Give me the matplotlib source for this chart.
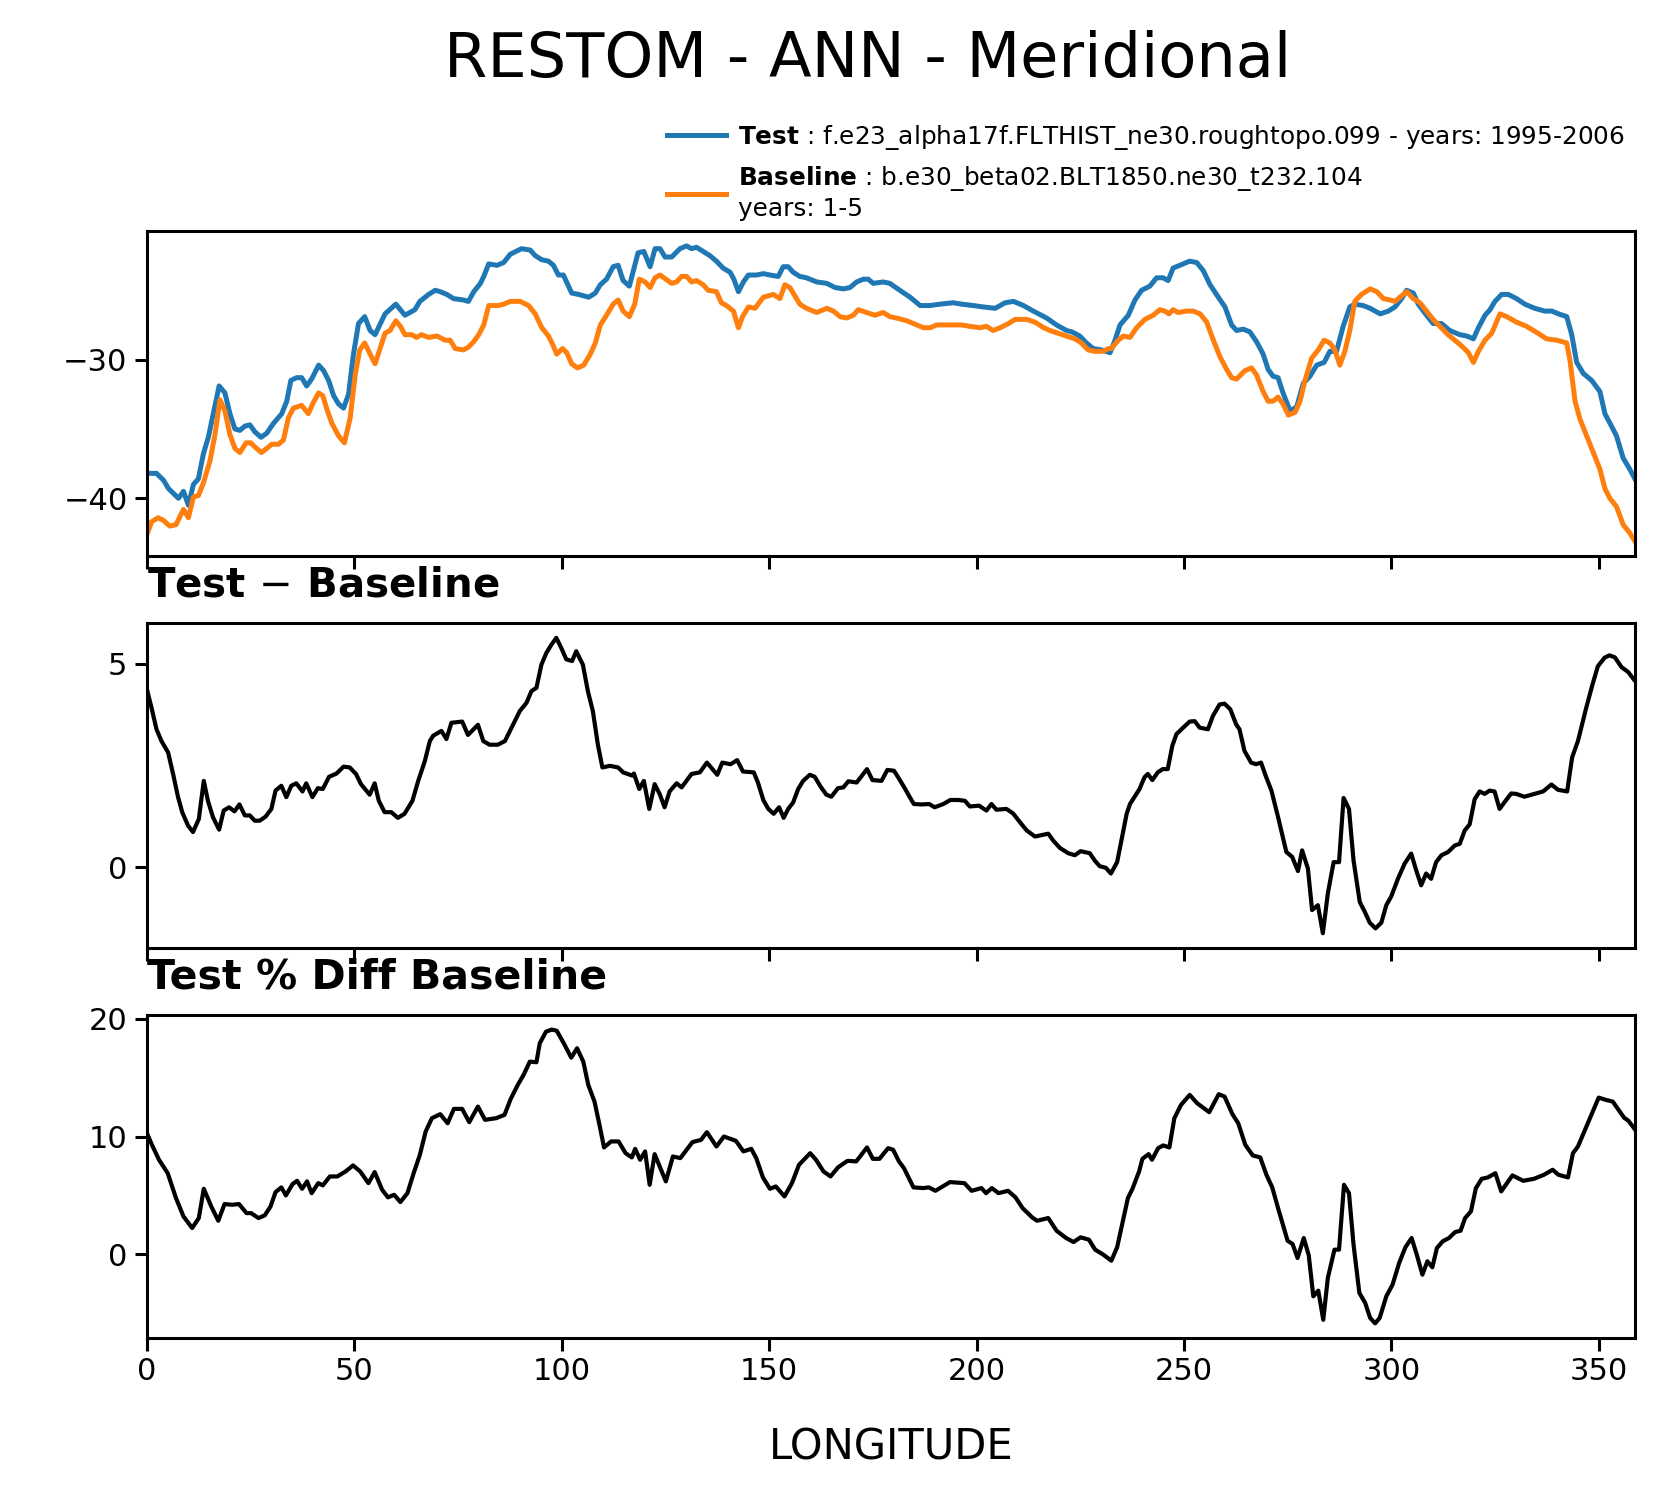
import numpy as np
import matplotlib
matplotlib.use("Agg")
import matplotlib.pyplot as plt
from matplotlib.ticker import MultipleLocator

# Test (blue)
test_lon = [0.0, 2.3, 4.0, 5.2, 7.6, 8.8, 10.0, 11.2, 12.4, 13.6, 14.8, 16.0, 17.4, 18.8, 20.0,
            21.2, 22.4, 23.6, 24.8, 26.0, 27.5, 28.9, 30.5, 32.5, 33.7, 34.7, 36.1, 37.3, 38.5,
            39.7, 41.4, 42.6, 43.8, 45.0, 46.2, 47.4, 48.6, 49.8, 51.0, 52.5, 53.8, 55.0, 57.4,
            60.0, 62.2, 64.6, 65.8, 67.9, 69.5, 70.7, 72.3, 73.9, 76.3, 77.5, 78.8, 80.4, 81.2,
            82.4, 84.4, 86.0, 87.6, 90.3, 92.4, 93.6, 95.2, 96.8, 98.0, 99.2, 100.4, 102.4, 104.1,
            106.5, 108.1, 109.3, 110.8, 112.4, 113.6, 114.8, 116.3, 117.6, 118.4, 119.8, 121.3,
            122.5, 123.7, 124.9, 126.5, 128.5, 130.1, 131.3, 132.5, 134.1, 135.7, 137.3, 138.9,
            140.6, 141.5, 142.6, 143.8, 145.0, 147.0, 148.6, 150.2, 152.2, 153.4, 154.6, 155.8,
            157.4, 159.0, 161.5, 163.9, 165.9, 167.9, 169.5, 171.1, 172.7, 173.9, 175.1, 177.5,
            179.1, 181.5, 184.0, 186.4, 188.8, 191.2, 194.4, 196.4, 199.2, 201.6, 204.5, 206.9,
            208.9, 211.3, 213.7, 216.9, 219.3, 221.7, 223.0, 224.9, 226.5, 228.1, 230.1, 232.2,
            233.4, 234.6, 236.6, 238.2, 239.8, 241.8, 243.4, 245.0, 246.2, 247.4, 249.0, 251.4,
            253.1, 254.7, 256.3, 258.3, 259.9, 261.5, 262.7, 264.3, 265.9, 267.5, 269.1, 270.3,
            271.5, 272.7, 273.9, 275.6, 277.2, 278.8, 280.4, 282.0, 283.8, 285.2, 286.8, 288.4,
            290.0, 291.2, 293.2, 294.9, 297.3, 299.3, 300.9, 302.5, 303.7, 305.3, 306.5, 308.5,
            310.1, 312.1, 314.1, 316.5, 318.2, 319.8, 321.0, 322.6, 323.8, 325.0, 326.6, 328.2,
            330.2, 332.2, 334.6, 337.0, 338.7, 340.3, 342.3, 343.5, 344.7, 346.3, 348.3, 350.3,
            351.5, 353.1, 354.3, 355.9, 357.5, 358.75]
test_val = [-38.2, -38.2, -38.7, -39.3, -40.0, -39.5, -40.5, -39.0, -38.6, -36.8, -35.6, -33.9,
            -31.9, -32.4, -33.9, -35.0, -35.1, -34.8, -34.7, -35.2, -35.6, -35.3, -34.6, -33.9,
            -33.0, -31.5, -31.3, -31.3, -31.9, -31.4, -30.4, -30.8, -31.5, -32.6, -33.2, -33.5,
            -32.5, -29.6, -27.4, -26.9, -27.9, -28.2, -26.7, -26.0, -26.8, -26.4, -25.8, -25.3,
            -25.0, -25.1, -25.3, -25.6, -25.7, -25.8, -25.1, -24.5, -24.0, -23.1, -23.2, -23.0,
            -22.4, -22.0, -22.1, -22.5, -22.8, -22.9, -23.2, -23.9, -23.9, -25.2, -25.3, -25.5,
            -25.2, -24.6, -24.2, -23.3, -23.2, -24.3, -24.7, -23.2, -22.3, -22.2, -23.3, -22.0,
            -22.0, -22.6, -22.6, -22.0, -21.8, -22.0, -21.9, -22.2, -22.5, -22.9, -23.4, -23.7,
            -24.2, -25.1, -24.4, -23.9, -23.9, -23.8, -23.9, -24.0, -23.3, -23.3, -23.7, -24.0,
            -24.1, -24.4, -24.5, -24.8, -24.9, -24.8, -24.4, -24.2, -24.2, -24.5, -24.4, -24.5,
            -25.0, -25.5, -26.1, -26.1, -26.0, -25.9, -26.0, -26.1, -26.2, -26.3, -25.9, -25.8,
            -26.1, -26.5, -27.0, -27.5, -27.9, -28.0, -28.3, -28.8, -29.2, -29.3, -29.5, -28.6,
            -27.5, -26.8, -25.7, -25.0, -24.7, -24.1, -24.1, -24.3, -23.4, -23.2, -22.9, -23.0,
            -23.6, -24.6, -25.5, -26.2, -27.5, -27.9, -27.8, -28.0, -28.7, -29.6, -30.7, -31.2,
            -31.3, -32.4, -33.7, -33.4, -31.7, -31.2, -30.4, -30.2, -29.4, -29.4, -27.6, -26.2,
            -26.0, -26.1, -26.3, -26.7, -26.5, -26.2, -25.6, -25.0, -25.2, -26.0, -26.8, -27.4,
            -27.4, -27.9, -28.2, -28.3, -28.5, -27.7, -26.8, -26.4, -25.8, -25.3, -25.3, -25.6,
            -26.0, -26.3, -26.5, -26.5, -26.7, -26.9, -28.2, -30.2, -31.0, -31.5, -32.3, -33.9,
            -34.8, -35.5, -37.1, -37.9, -38.6]

# Baseline (orange)
base_lon = [0.0, 1.1, 2.7, 4.0, 5.5, 7.0, 8.8, 10.0, 11.2, 12.4, 13.6, 15.2, 16.4, 17.6, 18.8,
            20.0, 21.2, 22.4, 23.9, 25.0, 26.4, 27.6, 28.9, 30.1, 31.7, 32.9, 34.1, 35.3, 37.3,
            38.9, 40.1, 41.4, 42.4, 43.4, 44.6, 46.2, 47.6, 49.0, 50.2, 51.3, 52.5, 53.8, 55.0,
            56.2, 57.4, 58.6, 60.0, 61.1, 62.2, 63.8, 65.0, 66.2, 67.9, 69.9, 71.9, 73.1, 74.3,
            76.3, 77.5, 78.8, 80.0, 81.2, 82.4, 84.7, 86.0, 87.6, 90.0, 92.0, 93.6, 95.2, 96.8,
            97.8, 98.8, 100.2, 101.2, 102.4, 103.8, 105.3, 106.9, 108.1, 109.3, 110.8, 112.4,
            113.6, 114.8, 116.3, 117.6, 118.7, 120.1, 121.3, 122.5, 123.7, 125.1, 126.5, 127.7,
            128.9, 130.1, 131.3, 132.5, 134.1, 135.3, 137.3, 138.5, 139.7, 141.4, 142.6, 143.6,
            145.0, 146.6, 148.6, 151.0, 152.6, 153.8, 155.0, 156.2, 157.4, 159.0, 161.5, 163.9,
            165.5, 167.1, 168.7, 170.3, 171.5, 173.5, 175.5, 177.5, 179.1, 180.7, 183.2, 185.6,
            187.2, 188.8, 190.4, 193.6, 196.4, 198.4, 200.8, 202.4, 204.0, 205.7, 207.7, 209.3,
            212.1, 214.1, 216.2, 217.7, 219.7, 221.7, 223.7, 225.3, 226.9, 228.5, 230.5, 231.8,
            232.5, 234.2, 235.4, 237.0, 238.6, 240.6, 242.6, 244.2, 245.4, 246.4, 247.4, 248.6,
            250.6, 252.2, 253.9, 255.5, 257.1, 258.7, 260.3, 261.5, 262.7, 264.7, 266.3, 267.5,
            269.1, 270.3, 271.5, 272.7, 273.9, 275.2, 276.8, 278.0, 279.2, 280.8, 282.4, 283.8,
            285.2, 286.4, 287.6, 288.8, 290.0, 291.2, 292.8, 294.9, 296.5, 298.1, 299.7, 300.9,
            302.1, 303.7, 305.3, 306.9, 308.5, 310.1, 311.7, 313.7, 315.3, 316.9, 318.6, 319.8,
            321.0, 322.6, 324.2, 326.2, 327.8, 330.2, 332.6, 335.4, 337.4, 339.9, 342.3, 343.1,
            344.3, 345.5, 347.1, 348.7, 350.3, 351.5, 352.7, 354.3, 355.9, 357.5, 358.75]
base_val = [-42.6, -41.7, -41.4, -41.6, -42.0, -41.9, -40.8, -41.4, -39.9, -39.8, -38.9, -37.3,
            -35.4, -32.9, -33.7, -35.4, -36.4, -36.7, -36.0, -36.0, -36.4, -36.7, -36.4, -36.1,
            -36.1, -35.8, -34.2, -33.5, -33.3, -33.9, -33.1, -32.4, -32.6, -33.6, -34.6, -35.5,
            -36.0, -34.2, -31.1, -29.3, -28.8, -29.6, -30.3, -29.2, -28.1, -27.9, -27.2, -27.6,
            -28.2, -28.2, -28.4, -28.2, -28.4, -28.3, -28.6, -28.6, -29.2, -29.3, -29.1, -28.7,
            -28.2, -27.5, -26.1, -26.1, -26.0, -25.8, -25.8, -26.1, -26.7, -27.7, -28.3, -28.9,
            -29.6, -29.2, -29.5, -30.3, -30.6, -30.4, -29.6, -28.8, -27.5, -26.8, -26.0, -25.7,
            -26.5, -26.9, -26.0, -24.2, -24.4, -24.8, -24.1, -23.9, -24.2, -24.5, -24.4, -24.0,
            -24.0, -24.4, -24.3, -24.6, -25.0, -25.1, -25.9, -26.1, -26.5, -27.7, -26.9, -26.2,
            -26.3, -25.5, -25.3, -25.6, -24.6, -24.8, -25.4, -26.0, -26.3, -26.6, -26.3, -26.5,
            -26.9, -27.0, -26.8, -26.4, -26.6, -26.8, -26.6, -26.9, -27.0, -27.2, -27.5, -27.7,
            -27.7, -27.5, -27.5, -27.5, -27.6, -27.7, -27.6, -27.9, -27.7, -27.4, -27.1, -27.1,
            -27.3, -27.7, -27.9, -28.1, -28.3, -28.5, -28.8, -29.3, -29.4, -29.4, -29.2, -29.2,
            -28.6, -28.3, -28.4, -27.7, -27.1, -26.8, -26.4, -26.5, -26.7, -26.4, -26.6, -26.5,
            -26.5, -26.7, -27.3, -28.6, -29.8, -30.7, -31.3, -31.4, -30.8, -30.6, -31.1, -32.3,
            -33.0, -33.0, -32.7, -33.2, -34.0, -33.8, -33.0, -31.5, -29.9, -29.3, -28.6, -28.8,
            -29.3, -30.4, -29.4, -27.9, -25.8, -25.3, -24.9, -25.1, -25.6, -25.7, -25.8, -25.5,
            -25.1, -25.6, -25.9, -26.5, -27.1, -27.6, -28.2, -28.6, -29.0, -29.5, -30.2, -29.4,
            -28.6, -28.1, -26.7, -26.9, -27.3, -27.6, -28.1, -28.5, -28.6, -28.8, -30.1, -33.0,
            -34.3, -35.5, -36.7, -37.9, -39.3, -40.0, -40.6, -41.9, -42.5, -43.1]

# Test - Baseline, middle panel
diff_lon = [0.0, 1.1, 2.3, 3.5, 5.1, 6.3, 7.5, 8.5, 9.9, 11.1, 12.5, 13.7, 14.7, 15.9, 17.4, 18.5,
            19.8, 21.1, 22.3, 23.6, 24.8, 26.0, 27.2, 28.6, 30.0, 31.0, 32.4, 33.6, 34.8, 36.0,
            37.5, 38.4, 39.9, 41.2, 42.4, 43.9, 45.7, 47.4, 48.9, 50.4, 51.6, 53.7, 54.9, 55.9,
            57.3, 58.9, 60.5, 62.1, 64.0, 65.4, 67.0, 68.2, 69.0, 71.0, 72.2, 73.4, 76.0, 77.4,
            79.8, 81.1, 82.6, 84.6, 86.3, 87.9, 89.9, 91.5, 92.7, 93.9, 95.1, 96.3, 97.5, 98.7,
            99.9, 101.1, 102.5, 103.5, 105.1, 106.3, 107.5, 108.7, 109.8, 111.6, 113.6, 114.8,
            117.0, 117.4, 118.7, 119.8, 121.1, 122.4, 123.6, 124.8, 126.0, 127.7, 128.9, 131.3,
            133.3, 135.0, 137.5, 138.7, 140.7, 142.3, 143.7, 146.3, 147.3, 148.6, 149.8, 151.1,
            152.4, 153.5, 154.6, 155.8, 157.0, 158.2, 159.8, 161.0, 162.4, 163.8, 165.0, 166.6,
            167.9, 169.1, 171.1, 172.7, 173.6, 174.9, 177.1, 178.5, 180.1, 181.1, 182.7, 183.9,
            184.9, 186.7, 188.6, 189.9, 192.0, 193.7, 195.6, 197.2, 198.4, 200.6, 202.4, 203.6,
            204.8, 207.2, 208.8, 210.5, 212.1, 214.1, 217.3, 218.5, 220.1, 222.1, 223.7, 225.1,
            227.3, 228.5, 229.7, 231.2, 232.4, 233.9, 235.4, 236.2, 237.0, 239.3, 240.5, 241.3,
            242.4, 243.7, 244.9, 246.1, 247.2, 248.2, 249.4, 251.4, 252.6, 253.8, 255.8, 257.0,
            258.6, 259.8, 261.2, 262.6, 263.4, 264.6, 266.2, 267.4, 268.6, 269.7, 271.1, 272.7,
            274.7, 276.1, 277.5, 278.5, 279.9, 280.9, 282.3, 283.5, 284.7, 286.1, 287.4, 288.5,
            289.8, 290.9, 292.4, 293.6, 294.8, 296.2, 297.6, 298.8, 300.0, 301.6, 303.2, 304.8,
            306.0, 307.2, 308.4, 309.6, 310.8, 312.1, 313.7, 315.3, 316.5, 317.7, 318.9, 320.1,
            321.3, 322.5, 323.7, 324.9, 326.1, 327.7, 328.9, 330.1, 332.1, 334.5, 336.6, 338.6,
            340.2, 342.4, 343.6, 345.0, 347.0, 348.5, 349.8, 351.4, 352.6, 353.9, 355.5, 357.1,
            358.75]
diff_val = [4.37, 3.92, 3.39, 3.10, 2.82, 2.29, 1.72, 1.35, 1.02, 0.86, 1.18, 2.12, 1.63, 1.23,
            0.92, 1.39, 1.47, 1.37, 1.54, 1.27, 1.27, 1.14, 1.14, 1.24, 1.43, 1.88, 2.00, 1.72,
            2.00, 2.06, 1.86, 2.06, 1.72, 1.94, 1.92, 2.22, 2.30, 2.47, 2.45, 2.29, 2.04, 1.78,
            2.06, 1.63, 1.35, 1.35, 1.21, 1.31, 1.63, 2.12, 2.61, 3.10, 3.23, 3.35, 3.15, 3.55,
            3.58, 3.25, 3.50, 3.10, 3.01, 3.01, 3.10, 3.43, 3.84, 4.04, 4.33, 4.41, 4.98, 5.27,
            5.47, 5.64, 5.39, 5.11, 5.07, 5.31, 4.98, 4.33, 3.84, 3.02, 2.45, 2.49, 2.45, 2.33,
            2.25, 2.30, 1.92, 2.12, 1.43, 2.04, 1.80, 1.47, 1.86, 2.06, 1.96, 2.29, 2.33, 2.57,
            2.27, 2.57, 2.53, 2.63, 2.35, 2.33, 2.08, 1.65, 1.43, 1.31, 1.47, 1.21, 1.43, 1.59,
            1.92, 2.12, 2.27, 2.22, 1.98, 1.78, 1.73, 1.94, 1.96, 2.11, 2.08, 2.29, 2.41, 2.14,
            2.12, 2.39, 2.37, 2.21, 1.94, 1.72, 1.55, 1.54, 1.55, 1.47, 1.55, 1.65, 1.65, 1.63,
            1.49, 1.51, 1.39, 1.55, 1.41, 1.43, 1.32, 1.10, 0.90, 0.75, 0.82, 0.65, 0.47, 0.34,
            0.29, 0.39, 0.34, 0.16, 0.02, -0.02, -0.16, 0.12, 0.90, 1.31, 1.55, 1.92, 2.21, 2.29,
            2.14, 2.33, 2.41, 2.41, 2.98, 3.27, 3.39, 3.58, 3.59, 3.43, 3.39, 3.72, 4.00, 4.02,
            3.88, 3.51, 3.39, 2.86, 2.57, 2.53, 2.57, 2.25, 1.88, 1.23, 0.37, 0.25, -0.10, 0.41,
            -0.04, -1.06, -0.94, -1.63, -0.65, 0.12, 0.12, 1.70, 1.43, 0.16, -0.86, -1.10, -1.37,
            -1.51, -1.37, -0.94, -0.72, -0.29, 0.08, 0.33, -0.08, -0.45, -0.16, -0.29, 0.12, 0.29,
            0.37, 0.53, 0.57, 0.90, 1.05, 1.67, 1.86, 1.80, 1.88, 1.86, 1.43, 1.65, 1.81, 1.80,
            1.73, 1.80, 1.86, 2.03, 1.90, 1.86, 2.70, 3.10, 3.92, 4.49, 4.94, 5.15, 5.21, 5.16,
            4.92, 4.80, 4.58]

# Test % Diff Baseline, bottom panel
pct_lon = [0.0, 1.2, 2.9, 5.0, 7.0, 8.8, 10.9, 12.5, 13.7, 15.5, 17.2, 18.7, 20.5, 22.2, 24.0,
           25.1, 26.9, 28.4, 29.8, 31.0, 32.4, 33.5, 35.1, 36.2, 37.4, 38.6, 39.7, 41.3, 42.4,
           44.1, 45.9, 47.9, 49.7, 51.4, 53.4, 54.9, 56.7, 58.1, 59.6, 61.1, 62.8, 64.3, 65.8,
           67.2, 68.7, 70.7, 72.5, 74.0, 76.0, 77.7, 79.8, 81.5, 84.2, 86.2, 87.7, 89.4, 90.8,
           92.3, 93.9, 94.7, 96.2, 97.6, 98.8, 100.5, 102.3, 103.7, 105.2, 106.4, 107.9, 109.1,
           110.2, 111.9, 113.7, 115.4, 116.9, 117.7, 118.9, 120.1, 121.2, 122.4, 125.1, 126.8,
           128.6, 131.5, 133.6, 135.0, 137.3, 139.1, 142.0, 143.8, 145.7, 146.9, 148.5, 150.2,
           151.6, 153.7, 155.5, 157.2, 159.9, 161.3, 163.1, 164.8, 166.6, 168.9, 171.0, 173.6,
           175.0, 176.6, 178.7, 179.9, 181.3, 182.5, 184.8, 187.1, 188.5, 190.1, 193.6, 197.1,
           198.8, 201.2, 202.3, 203.7, 205.3, 207.6, 209.4, 211.1, 213.4, 214.6, 217.3, 219.3,
           221.6, 223.4, 225.1, 227.1, 228.6, 230.6, 232.5, 233.9, 235.1, 236.5, 237.6, 239.2,
           240.0, 241.5, 242.3, 243.8, 245.0, 246.5, 247.7, 249.3, 251.4, 253.2, 256.1, 258.4,
           259.8, 261.7, 263.1, 264.8, 266.6, 268.4, 269.9, 271.3, 272.7, 275.0, 276.2, 277.4,
           278.9, 280.1, 281.2, 282.4, 283.6, 284.7, 286.3, 287.4, 288.6, 289.8, 290.9, 292.3,
           293.7, 294.9, 296.1, 297.2, 298.8, 300.3, 301.9, 303.4, 304.9, 306.1, 307.5, 308.7,
           309.9, 311.0, 312.4, 313.9, 315.4, 316.7, 317.8, 319.2, 320.4, 321.8, 323.3, 325.1,
           326.5, 329.2, 331.8, 334.4, 336.8, 338.9, 340.3, 342.6, 343.8, 345.0, 346.7, 348.4,
           350.0, 351.7, 353.4, 354.5, 356.1, 357.2, 358.75]
pct_val = [10.28, 9.29, 8.02, 6.88, 4.76, 3.20, 2.21, 3.06, 5.55, 4.05, 2.83, 4.25, 4.19, 4.25,
           3.48, 3.48, 3.06, 3.29, 4.05, 5.27, 5.67, 4.99, 5.95, 6.23, 5.55, 6.18, 5.18, 6.03,
           5.84, 6.60, 6.60, 7.03, 7.54, 7.03, 6.03, 6.97, 5.47, 4.82, 5.04, 4.42, 5.18, 6.88,
           8.44, 10.43, 11.56, 11.90, 11.13, 12.35, 12.35, 11.22, 12.55, 11.42, 11.56, 11.84,
           13.20, 14.39, 15.24, 16.37, 16.32, 17.93, 18.92, 19.10, 19.00, 17.93, 16.71, 17.51,
           16.37, 14.39, 12.97, 10.99, 9.07, 9.58, 9.58, 8.58, 8.22, 8.95, 8.02, 8.73, 5.89,
           8.50, 6.18, 8.30, 8.16, 9.52, 9.72, 10.37, 9.15, 10.00, 9.63, 8.73, 8.95, 8.16, 6.52,
           5.55, 5.75, 4.90, 6.03, 7.59, 8.58, 8.02, 7.03, 6.60, 7.37, 7.93, 7.88, 9.07, 8.10,
           8.10, 9.01, 8.87, 7.88, 7.31, 5.67, 5.61, 5.67, 5.38, 6.12, 6.03, 5.38, 5.61, 5.18,
           5.61, 5.18, 5.38, 4.82, 3.91, 3.12, 2.83, 3.06, 1.98, 1.36, 1.02, 1.42, 1.22, 0.37,
           -0.06, -0.57, 0.57, 2.49, 4.76, 5.55, 7.03, 8.10, 8.50, 8.02, 9.01, 9.24, 9.07, 11.56,
           12.69, 13.54, 12.83, 12.07, 13.60, 13.40, 11.90, 11.13, 9.29, 8.39, 8.22, 6.74, 5.67,
           3.91, 1.13, 0.85, -0.34, 1.36, -0.11, -3.60, -3.12, -5.60, -2.04, 0.37, 0.37, 5.89,
           5.18, 0.79, -3.31, -4.16, -5.44, -5.90, -5.44, -3.60, -2.61, -0.76, 0.57, 1.36, 0.00,
           -1.76, -0.62, -1.13, 0.51, 1.08, 1.36, 1.87, 1.98, 3.06, 3.63, 5.61, 6.40, 6.52, 6.88,
           5.33, 6.69, 6.23, 6.40, 6.74, 7.17, 6.74, 6.52, 8.58, 9.15, 10.57, 11.98, 13.31, 13.12,
           12.97, 12.41, 11.61, 11.33, 10.60]

test_label = r"$\bf{Test}$ : f.e23_alpha17f.FLTHIST_ne30.roughtopo.099 - years: 1995-2006"
base_label = r"$\bf{Baseline}$ : b.e30_beta02.BLT1850.ne30_t232.104" + "\nyears: 1-5"

fig = plt.figure(figsize=(8.34, 7.48), dpi=200)

ax1 = fig.add_axes([0.0881, 0.6283, 0.8921, 0.2172])
ax2 = fig.add_axes([0.0881, 0.3663, 0.8921, 0.2172])
ax3 = fig.add_axes([0.0881, 0.1056, 0.8921, 0.2160])

ax1.plot(test_lon, test_val, color="tab:blue", lw=1.8, label=test_label)
ax1.plot(base_lon, base_val, color="tab:orange", lw=1.8, label=base_label)
ax1.yaxis.set_major_locator(MultipleLocator(10))
ax1.legend(loc="lower right", bbox_to_anchor=(1.0, 1.0), frameon=False, fontsize=8.9,
           handlelength=2.4, handletextpad=0.5, borderaxespad=0.0)

ax2.plot(diff_lon, diff_val, color="black", lw=1.5)
ax2.yaxis.set_major_locator(MultipleLocator(5))
ax2.set_title("Test $-$ Baseline", loc="left", fontsize=14.5, fontweight="bold", pad=9.4)

ax3.plot(pct_lon, pct_val, color="black", lw=1.5)
ax3.yaxis.set_major_locator(MultipleLocator(10))
ax3.set_title("Test % Diff Baseline", loc="left", fontsize=14.8, fontweight="bold", pad=9.4)
ax3.set_xlabel("LONGITUDE", fontsize=15, labelpad=14.5)

for ax in (ax1, ax2, ax3):
    ax.set_xlim(0, 358.75)
    ax.xaxis.set_major_locator(MultipleLocator(50))
    ax.tick_params(labelsize=11, length=4.5, width=1.1, pad=2.5)
    for sp in ax.spines.values():
        sp.set_linewidth(1.1)
for ax in (ax1, ax2):
    ax.tick_params(labelbottom=False)

fig.text(0.52, 1 - 60 / 1496, "RESTOM - ANN - Meridional", ha="center", va="center",
         fontsize=22.4)

fig.savefig("out.png", dpi=200)
